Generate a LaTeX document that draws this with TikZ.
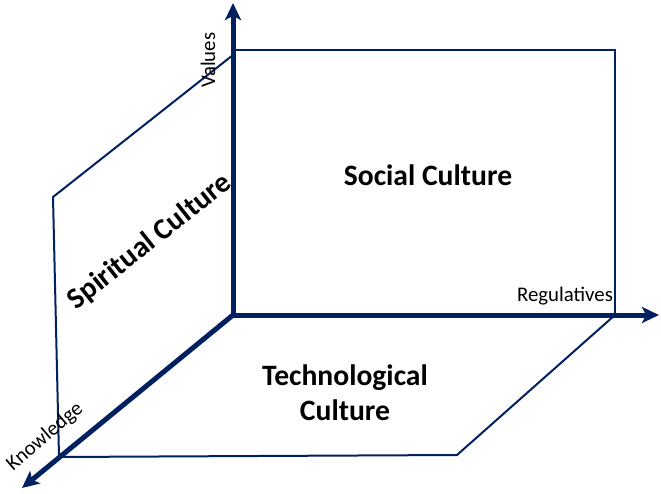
\documentclass[tikz,border=0pt]{standalone}
\usepackage{fontspec}
\setmainfont{Carlito}
\usepackage{tikz}
\usetikzlibrary{arrows.meta}
\definecolor{navy}{HTML}{002060}

\begin{document}
\begin{tikzpicture}[x=1pt, y=-1pt,
    axis/.style={navy, line width=5pt, -{Stealth[length=17pt, width=16pt, inset=4pt]}},
    plane/.style={navy, line width=2pt, line join=miter},
    title/.style={font=\fontsize{29.6}{35}\selectfont\bfseries, align=center},
    axislabel/.style={font=\fontsize{20.8}{24}\selectfont}]
    \useasboundingbox (0,0) rectangle (661,494);

    % Corners of the planes
    \coordinate (O) at (233,315);
    \coordinate (V) at (233,3);
    \coordinate (R) at (659,315);
    \coordinate (K) at (22,488);
    \coordinate (soc1) at (233,50);
    \coordinate (soc2) at (615,50);
    \coordinate (soc3) at (615,315);
    \coordinate (spi1) at (233,55);
    \coordinate (spi2) at (53,197);
    \coordinate (spi3) at (59,457);
    \coordinate (tec1) at (457,455);

    % Draw the planes
    \draw[plane] (soc1) -- (soc2) -- (soc3);
    \draw[plane] (spi1) -- (spi2) -- (spi3);
    \draw[plane] (spi3) -- (tec1) -- (soc3);

    % Draw the axes
    \draw[axis] (O) -- (V);
    \draw[axis] (O) -- (R);
    \draw[axis] (O) -- (K);

    % Labels
    \node[title] (social) at (428,175) {Social Culture};
    \node[title, rotate=38.5] (spiritual) at (150,242) {Spiritual Culture};
    \node[title] (techno) at (345,393) {Technological\\Culture};
    \node[axislabel, rotate=90] (values) at (208,60) {Values};
    \node[axislabel] (regul) at (565,296) {Regulatives};
    \node[axislabel, rotate=40.5] (know) at (45,437) {Knowledge};
\end{tikzpicture}
\end{document}
